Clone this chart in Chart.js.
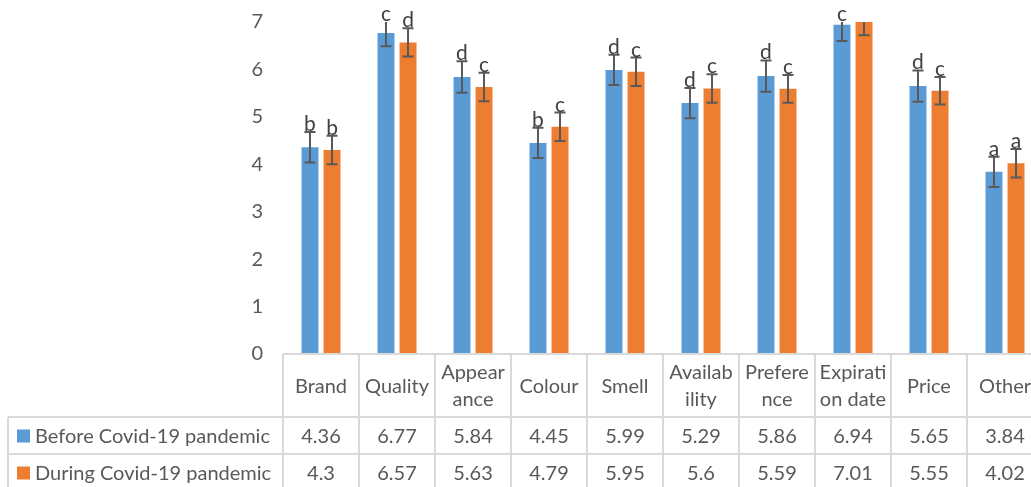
<!DOCTYPE html>
<html>
<head>
<meta charset="utf-8">
<script src="https://cdn.jsdelivr.net/npm/chart.js@4/dist/chart.umd.min.js"></script>
<style>
  html, body { margin: 0; padding: 0; background: #fff; }
  #wrap { width: 1031px; height: 487px; overflow: hidden; position: relative; }
  #wrap canvas { position: absolute; left: 0; top: 0; }
</style>
</head>
<body>
<div id="wrap"><canvas id="chart" width="1060" height="487"></canvas></div>
<script>
// categories as they are wrapped in the table header
var categories = ["Brand", "Quality", "Appearance", "Colour", "Smell", "Availability", "Preference", "Expiration date", "Price", "Other"];
var categoryLines = [["Brand"], ["Quality"], ["Appear", "ance"], ["Colour"], ["Smell"], ["Availab", "ility"], ["Prefere", "nce"], ["Expirati", "on date"], ["Price"], ["Other"]];

var seriesNames = ["Before Covid-19 pandemic", "During Covid-19 pandemic"];
var beforeValues = [4.36, 6.77, 5.84, 4.45, 5.99, 5.29, 5.86, 6.94, 5.65, 3.84];
var duringValues = [4.3, 6.57, 5.63, 4.79, 5.95, 5.6, 5.59, 7.01, 5.55, 4.02];

// error bar half-widths
var beforeErrors = [0.32, 0.28, 0.33, 0.32, 0.32, 0.32, 0.33, 0.34, 0.33, 0.32];
var duringErrors = [0.30, 0.30, 0.30, 0.30, 0.30, 0.30, 0.29, 0.29, 0.29, 0.30];

// significance letters above the bars
var beforeLetters = ["b", "c", "d", "b", "d", "d", "d", "c", "d", "a"];
var duringLetters = ["b", "d", "c", "c", "c", "c", "c", "", "c", "a"];

var yTicks = [0, 1, 2, 3, 4, 5, 6, 7];

var blue = "#5B9BD5";
var orange = "#ED7D31";
var textColor = "#595959";
var lineColor = "#d9d9d9";
var fontFamily = "Lato, 'Open Sans', sans-serif";

var errorsByDataset = [beforeErrors, duringErrors];
var lettersByDataset = [beforeLetters, duringLetters];

var errorBarPlugin = {
    id: "errorBars",
    afterDatasetsDraw: function (chart) {
        var ctx = chart.ctx;
        var area = chart.chartArea;
        var y = chart.scales.y;

        chart.data.datasets.forEach(function (ds, di) {
            var meta = chart.getDatasetMeta(di);
            meta.data.forEach(function (bar, i) {
                var v = ds.data[i];
                var err = errorsByDataset[di][i];
                var top = y.getPixelForValue(v + err);
                var bottom = y.getPixelForValue(v - err);
                var cx = bar.x;

                // Excel clips the error bars to the plot area
                ctx.save();
                ctx.beginPath();
                ctx.rect(area.left, area.top, area.right - area.left, area.bottom - area.top);
                ctx.clip();
                ctx.strokeStyle = "#595959";
                ctx.lineWidth = 2;
                ctx.beginPath();
                ctx.moveTo(cx, top);
                ctx.lineTo(cx, bottom);
                ctx.moveTo(cx - 5.5, top);
                ctx.lineTo(cx + 5.5, top);
                ctx.moveTo(cx - 5.5, bottom);
                ctx.lineTo(cx + 5.5, bottom);
                ctx.stroke();
                ctx.restore();

                var letter = lettersByDataset[di][i];
                if (letter) {
                    ctx.save();
                    ctx.fillStyle = "#404040";
                    ctx.font = "21px " + fontFamily;
                    ctx.textAlign = "center";
                    ctx.textBaseline = "alphabetic";
                    ctx.fillText(letter, cx, Math.max(top, area.top) - 1);
                    ctx.restore();
                }
            });
        });
    }
};

var dataTablePlugin = {
    id: "dataTable",
    afterDraw: function (chart) {
        var ctx = chart.ctx;
        var area = chart.chartArea;
        var n = categories.length;
        var colW = (area.right - area.left) / n;
        var tableLeft = 8;
        var headTop = area.bottom;
        var row1 = headTop + 63;
        var row2 = row1 + 37;
        var row3 = row2 + 37;

        ctx.save();
        ctx.strokeStyle = lineColor;
        ctx.lineWidth = 2;
        ctx.beginPath();
        // horizontal lines
        ctx.moveTo(area.left, headTop);
        ctx.lineTo(area.right, headTop);
        ctx.moveTo(tableLeft, row1);
        ctx.lineTo(area.right, row1);
        ctx.moveTo(tableLeft, row2);
        ctx.lineTo(area.right, row2);
        ctx.moveTo(tableLeft, row3);
        ctx.lineTo(area.right, row3);
        // vertical lines
        ctx.moveTo(tableLeft, row1);
        ctx.lineTo(tableLeft, row3);
        for (var c = 0; c <= n; c++) {
            var x = area.left + c * colW;
            ctx.moveTo(x, headTop);
            ctx.lineTo(x, row3);
        }
        ctx.stroke();

        ctx.fillStyle = textColor;
        ctx.font = "20px " + fontFamily;
        ctx.textAlign = "center";
        ctx.textBaseline = "middle";

        for (var i = 0; i < n; i++) {
            var cx = chart.scales.x.getPixelForValue(i);
            var lines = categoryLines[i];
            var mid = (headTop + row1) / 2 + 1;
            var lh = 27;
            lines.forEach(function (t, li) {
                ctx.fillText(t, cx, mid + (li - (lines.length - 1) / 2) * lh);
            });
            ctx.fillText(String(beforeValues[i]), cx, (row1 + row2) / 2 + 1);
            ctx.fillText(String(duringValues[i]), cx, (row2 + row3) / 2 + 1);
        }

        // legend keys in the first column
        var keys = [[blue, seriesNames[0], (row1 + row2) / 2], [orange, seriesNames[1], (row2 + row3) / 2]];
        keys.forEach(function (k) {
            ctx.fillStyle = k[0];
            ctx.fillRect(17, k[2] - 6, 13, 13);
            ctx.fillStyle = textColor;
            ctx.textAlign = "left";
            ctx.fillText(k[1], 35, k[2] + 1);
        });
        ctx.restore();
    }
};

var ctx = document.getElementById("chart").getContext("2d");
var chart = new Chart(ctx, {
    type: "bar",
    data: {
        labels: categories,
        datasets: [
            { label: seriesNames[0], data: beforeValues, backgroundColor: blue, borderWidth: 0 },
            { label: seriesNames[1], data: duringValues, backgroundColor: orange, borderWidth: 0 }
        ]
    },
    options: {
        responsive: false,
        animation: false,
        devicePixelRatio: 1,
        datasets: { bar: { categoryPercentage: 0.58, barPercentage: 0.77 } },
        layout: { padding: { top: 22, left: 0, right: 17, bottom: 133 } },
        plugins: {
            legend: { display: false },
            tooltip: { enabled: false }
        },
        scales: {
            x: {
                display: false
            },
            y: {
                min: 0,
                max: 7,
                afterBuildTicks: function (scale) {
                    scale.ticks = yTicks.map(function (v) { return { value: v }; });
                },
                afterFit: function (scale) {
                    scale.width = 283;
                    scale.paddingTop = 0;
                    scale.paddingBottom = 0;
                },
                grid: { display: false, drawTicks: false },
                border: { display: false },
                ticks: {
                    padding: 20,
                    color: textColor,
                    font: { family: fontFamily, size: 20 }
                }
            }
        }
    },
    plugins: [errorBarPlugin, dataTablePlugin]
});
</script>
</body>
</html>
